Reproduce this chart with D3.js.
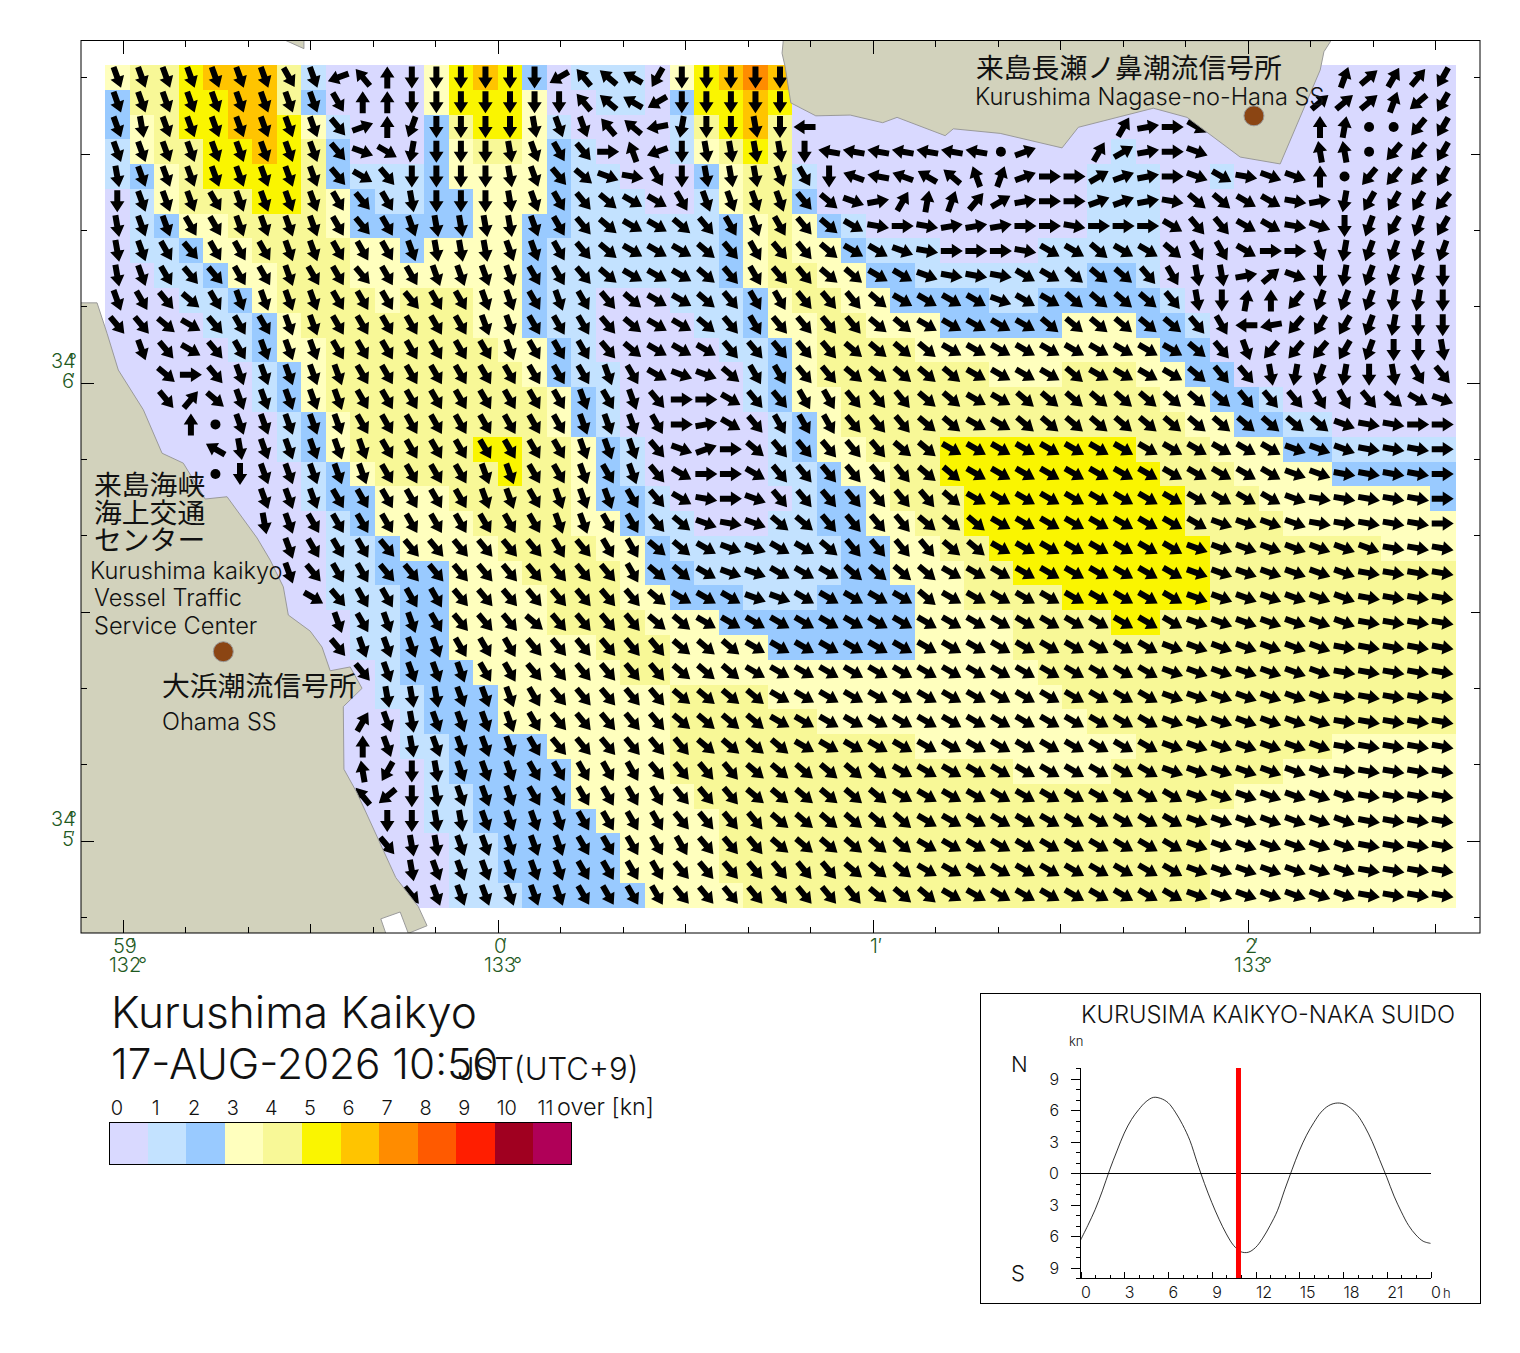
<!DOCTYPE html>
<html>
<head>
<meta charset="utf-8">
<title>Kurushima Kaikyo</title>
<script src="https://cdnjs.cloudflare.com/ajax/libs/d3/7.8.5/d3.min.js"></script>
<style>
	html, body { margin: 0; padding: 0; background: #fff; }
	text { font-family: Inter, "Noto Sans CJK JP", sans-serif; font-weight: 300; fill: #111; }
	text.ja { font-family: "Noto Sans CJK JP", sans-serif; font-weight: 400; }
</style>
</head>
<body>
<svg id="chart" width="1520" height="1353"></svg>
<script>
// speed class of every cell (0 = under 1 kn), one string per row
const speedRows = [
	"3445666410000356520 111035676000000000 000000000000000000",
	"2445566420000355530 011025565000000000 000000000000000000",
	"2345566531000245531 000014564000000000 000000000000000000",
	"1344556542000234432 100013454000000000 000010000000000000",
	"1234555542111233332 110002344100000000 000111001000000000",
	"0134445543211223332 111001344200000000 000111000000000000",
	"0123344443222223322 111111234321000000 000111000000000000",
	"0112334444332333321 111111234332111000 011111000000000000",
	"0011233444333333321 111111234433221111 111221000000000000",
	"0001123444434443321 100011123443322221 122222100000000000",
	"0000112344444443321 100001123344333222 223332210000000000",
	"0000012334444444332 100000112344443333 333333220000000000",
	"0000001234444444432 110000012344444443 334443322000000000",
	"0000001234444444443 210000012334444444 444444332210000000",
	"0000000123444444443 210000001234444444 444444433221100000",
	"0000000123444445544 321000001233444555 555554443332211111",
	"0000000012344444544 321000001123344555 555555444333322222",
	"0000000012233344444 322100000122344455 555555544433333332",
	"0000000001233334444 332110001122334455 555555544443333333",
	"0000000001123333444 433211111112233445 555555554444444333",
	"0000000001122233344 443221111112233344 555555554444444444",
	"0000000001112233334 443322211122223344 445555554444444444",
	"0000000000112233334 444333222222223333 444455444444444444",
	"0000000000112233333 344433332222223333 444444444444444444",
	"0000000000012223333 334433333333333333 344444444444444444",
	"0000000000011222333 333344443333333333 334444444444444444",
	"0000000000001222333 333344444433333333 333444444444444444",
	"0000000000001122223 333344444444443333 333334444444433333",
	"0000000000000122222 333344444444444444 333344444443333333",
	"0000000000000112222 333334444444444444 444444444333333333",
	"0000000000000112222 233333444444444444 444444443333333333",
	"0000000000000011222 223333444444444444 444444443333333333",
	"0000000000000011222 223333444444444444 444444443333333333",
	"0000000000000011122 222333344444444444 444444443333333333"
];

// flow heading of every cell in tens of degrees, base 36 (i = 180, 9 = 90)
// "." no arrow, "*" slack water
const headingRows = [
	"gggggggfgpw0iiiiiio wvuliiiii......... .............2534l",
	"gggggggggf00iiiiiii wvuoiiiii......... ............5552nl",
	"ghggggggge70kiiiihg gwvqjiihir........ ....389c....01**ml",
	"gggggggggebcjiiihgf e9ypihhhhisssssss* 7..3689b....zz*mml",
	"hggggggggeceiiiihge dbafihhhgfitstuvy2 7996789bcabb0*mmml",
	"igggfggggfefhiiihgf edccfggggedb831246 899778addcca8jlllm",
	"hggffggggfefghhhhgf edccdefgfedca9a888 99a999ceeccabiklkl",
	"hgfefffggfffghhhggf edcccdefeedccba999 accdccdffc99gjkkkk",
	"hgfeeffgffeffggggff edcccdefeeddccbaaa ccdddefhh85bijkkki",
	"gfedfggggfffeffggfg fedccdeffeeedccccb ccddddehi10mkkkjji",
	"eedceffggffffffggff fedccdefeeeeddcccc cddddddefrqmllkjii",
	".gecefgggfffffffgff fedccceeeeeddddccc cccccccdegmmmlkiih",
	"..d9egggggfffffffff fgfcbbdffeedddddcc ccdccccdeehjkjihfe",
	"..e4dgggggfffffffff gfge99ceeffeeeddcc dddddddddeeeffedcb",
	"...0*gggggfffffffff gggf98cefffeeeddcc dddddddddddddbaa99",
	"....uhgggggffffffff gggeb79deeeeeddccc cccccccccccbbbaaa9",
	"....*igggggffffggff gfgec99ceeeeeeddcc cccccccccccbbaaaa9",
	"......gggffffffggfg ggfeca9beeeeeeedcc cccccccccccbaaaaa9",
	"......hgffffffffffg gffedbabddeeeedddc ccccccccbbbbaaaaa9",
	".......gfffeeeeeeef effddcbbccdeeeeddc cccccccbbbbbbbbaaa",
	".......geffeeeeeeee eefddcbbcccddddccc cccccccbbbbbbbaaaa",
	"........ceffffeeeee eeedcccbbcccccdccc cccccccbbbbbbbaaaa",
	".........gfggfeeede eeeddccccccccccccc cccccccbbbbbbbaaaa",
	".........eggggfffee eeeedddccccccccccc ccccccbbbbbbbaaaaa",
	"..........eggggffee eeeedddccccccccccc ccccccbbbbbbbaaaaa",
	"...........hhhgggfe eeeeddddcccccccccc ccccccbbbbbbbaaaaa",
	"..........3ghggggfe eeeeddddcccccccccc ccccccbbbbbbbaaaaa",
	"..........0ghggggfe eeeeeddddccccccccc ccccccbbbbbbbaaaaa",
	"..........zlihgggff fffeeeeddddddccccc ccccccbbbbbbbaaaaa",
	"..........wnihgggff ffffeeeddddddccccc cccccccbbbbbbbaaaa",
	"...........iihhgggg ffffeeeeddddddcccc cccccccbbbbbbbaaaa",
	"...........ehhggggg fffffeeeddddddcccc cccccccbbbbbbbaaaa",
	"............hgggggg ffffeeeeeeedddcccc cccccccbbbbbbbaaaa",
	"............egggggg ffffeeeeeeeedddccc cccccccbbbbbbbaaaa"
];

const speedColors = ["#d9d9ff", "#c3e2ff", "#99caff", "#ffffbe", "#f8f897", "#faf500", "#ffc400", "#ff8c00", "#ff5a00", "#ff1e00", "#a00020", "#b00058"];
const speedLabels = ["0", "1", "2", "3", "4", "5", "6", "7", "8", "9", "10", "11"];

// coast outlines: arc seconds east of 133°00' and north of 34°05'
const coastNagase = [[45.6,104.9],[45.4,103.2],[45.9,101.4],[46.8,96.7],[50.8,95],[56.3,95.1],[61.5,94.1],[63.8,94.8],[71.5,92.4],[72.8,93.3],[80.3,92.7],[90.2,90.8],[92.8,93.5],[104.8,96],[110.2,94.8],[118.7,89.6],[125.1,88.7],[131.5,101],[132.1,103.4],[133.2,104.8]];
const coastIslet = [[-34.1,104.9],[-31.1,103.8],[-31.1,104.9]];
const coastWest = [[-67,70.5],[-64.2,70.5],[-62.6,66.5],[-60.8,61.7],[-56.8,56.5],[-53.8,50.8],[-50.4,49.5],[-46.9,44.8],[-43.4,45.1],[-38.6,39.7],[-36.5,36.8],[-34.4,33.3],[-33.6,29.6],[-30.1,27.5],[-28.2,25.4],[-26.9,22.3],[-23.7,22.8],[-21.8,20],[-24.8,17.6],[-24.7,9.4],[-22.6,6.3],[-16.4,-4.8],[-12.8,-8.6],[-11.4,-11.1],[-14.4,-12.1],[-15.7,-9.3],[-18.8,-10.2],[-18,-12.1],[-67,-12.1]];
const stations = [[120.9,95],[-44,24.8]];

// tide curve of the channel, hour and knots (north positive)
const tideHours = [0,0.5,1,1.5,2,2.5,3,3.5,4,4.5,5,5.5,6,6.5,7,7.5,8,8.5,9,9.5,10,10.5,11,11.5,12,12.5,13,13.5,14,14.5,15,15.5,16,16.5,17,17.5,18,18.5,19,19.5,20,20.5,21,21.5,22,22.5,23,23.5,24];
const tideKnots = [-6.4,-5,-3.5,-1.7,0.3,2.1,3.8,5.1,6.05,6.8,7.2,7.1,6.7,5.8,4.6,3.1,1,-1,-2.8,-4.4,-5.8,-6.9,-7.5,-7.55,-7.1,-6.2,-5,-3.6,-1.6,0.3,2.1,3.6,4.8,5.8,6.4,6.65,6.6,6.2,5.5,4.4,3,1.3,-0.4,-2.2,-3.7,-5,-5.9,-6.5,-6.7];
const tideNow = 10 + 50 / 60;
const tideHourTicks = [0, 3, 6, 9, 12, 15, 18, 21];
const tideKnotTicks = [-9, -6, -3, 0, 3, 6, 9];

const svg = d3.select('#chart');

const frame = {left: 81, right: 1480, top: 40.5, bottom: 933};

// map scales
const lon = d3.scaleLinear().domain([0, 60]).range([498.3, 873.3]);
const lat = d3.scaleLinear().domain([0, 60]).range([841, 383]);
const col = d3.scaleLinear().domain([0, 55]).range([105, 1455]);
const row = d3.scaleLinear().domain([0, 34]).range([65, 907.7]);

svg.append('clipPath').attr('id', 'frame').append('rect')
	.attr('x', frame.left).attr('y', frame.top)
	.attr('width', frame.right - frame.left).attr('height', frame.bottom - frame.top);

const speeds = speedRows.map(d => d.replace(/ /g, ''));
const headings = headingRows.map(d => d.replace(/ /g, ''));

const cells = [];
speeds.forEach((line, r) => {
	line.split('').forEach((s, c) => cells.push({r, c, speed: +s, heading: headings[r][c]}));
});

const map = svg.append('g').attr('clip-path', 'url(#frame)');

map.append('g').selectAll('rect')
	.data(cells)
	.join('rect')
	.attr('x', d => col(d.c))
	.attr('y', d => row(d.r))
	.attr('width', d => col(d.c + 1) - col(d.c) + 0.5)
	.attr('height', d => row(d.r + 1) - row(d.r) + 0.5)
	.attr('fill', d => speedColors[d.speed])
	.attr('shape-rendering', 'crispEdges');

// arrows
const arrow = 'M-3,-11L3,-11L3,0L7.2,0L0,11L-7.2,0L-3,0Z';

map.append('g').selectAll('path')
	.data(cells.filter(d => d.heading !== '.' && d.heading !== '*'))
	.join('path')
	.attr('d', arrow)
	.attr('fill', '#000')
	.attr('transform', d => {
		let deg = parseInt(d.heading, 36) * 10;
		// the shape points down, headings count clockwise from north
		return `translate(${col(d.c + 0.5)},${row(d.r + 0.5)}) rotate(${deg - 180})`;
	});

map.append('g').selectAll('circle')
	.data(cells.filter(d => d.heading === '*'))
	.join('circle')
	.attr('cx', d => col(d.c + 0.5))
	.attr('cy', d => row(d.r + 0.5))
	.attr('r', 5)
	.attr('fill', '#000');

// land
const coastLine = d3.line().x(d => lon(d[0])).y(d => lat(d[1]));

map.append('g').selectAll('path')
	.data([coastNagase, coastIslet, coastWest])
	.join('path')
	.attr('d', d => coastLine(d) + 'Z')
	.attr('fill', '#d2d2bc')
	.attr('stroke', '#9a9a9a')
	.attr('stroke-width', 1);

map.append('g').selectAll('circle')
	.data(stations)
	.join('circle')
	.attr('cx', d => lon(d[0]))
	.attr('cy', d => lat(d[1]))
	.attr('r', 10)
	.attr('fill', '#8b4513')
	.attr('stroke', '#9a9a9a');

// frame and ticks
svg.append('rect')
	.attr('x', frame.left).attr('y', frame.top)
	.attr('width', frame.right - frame.left).attr('height', frame.bottom - frame.top)
	.attr('fill', 'none')
	.attr('stroke', '#000');

let tickLength = s => s % 60 === 0 ? 13 : (Math.abs(s) % 30 === 0 ? 9 : 6);

const lonTicks = d3.range(-60, 160, 10);
const latTicks = d3.range(-10, 110, 10);

const ticks = svg.append('g').attr('stroke', '#000').attr('shape-rendering', 'crispEdges');

[frame.top, frame.bottom].forEach((edge, i) => {
	ticks.append('g').selectAll('line')
		.data(lonTicks)
		.join('line')
		.attr('x1', d => lon(d)).attr('x2', d => lon(d))
		.attr('y1', edge)
		.attr('y2', d => edge + (i ? -1 : 1) * tickLength(d));
});

[frame.left, frame.right].forEach((edge, i) => {
	ticks.append('g').selectAll('line')
		.data(latTicks)
		.join('line')
		.attr('y1', d => lat(d)).attr('y2', d => lat(d))
		.attr('x1', edge)
		.attr('x2', d => edge + (i ? -1 : 1) * tickLength(d));
});

// place names
const namesJa = [
	['来島長瀬ノ鼻潮流信号所', 976, 78],
	['来島海峡', 94, 495],
	['海上交通', 94, 523],
	['センター', 94, 550],
	['大浜潮流信号所', 162, 696]
];
const namesEn = [
	['Kurushima Nagase-no-Hana SS', 975, 105],
	['Kurushima kaikyo', 90, 579],
	['Vessel Traffic', 94, 606],
	['Service Center', 94, 634],
	['Ohama SS', 162, 730]
];

svg.append('g').selectAll('text')
	.data(namesJa)
	.join('text')
	.attr('class', 'ja')
	.text(d => d[0])
	.attr('x', d => d[1])
	.attr('y', d => d[2])
	.attr('font-size', 27.8);

svg.append('g').selectAll('text')
	.data(namesEn)
	.join('text')
	.text(d => d[0])
	.attr('x', d => d[1])
	.attr('y', d => d[2])
	.attr('font-size', 23.6);

// graticule labels
const graticule = [
	['59', 113, 953], ['′', 131, 953], ['132', 109, 972], ['°', 138, 972],
	['0', 494, 953], ['′', 503, 953], ['133', 484, 972], ['°', 513, 972],
	['1', 870, 953], ['′', 878, 953],
	['2', 1245, 953], ['′', 1254, 953], ['133', 1234, 972], ['°', 1263, 972],
	['34', 51, 368], ['°', 68, 368], ['6', 62, 388], ['′', 71, 388],
	['34', 51, 826], ['°', 68, 826], ['5', 62, 846], ['′', 71, 846]
];

svg.append('g').selectAll('text')
	.data(graticule)
	.join('text')
	.text(d => d[0])
	.attr('x', d => d[1])
	.attr('y', d => d[2])
	.attr('font-size', 20)
	.style('fill', '#1f5a1f');

// title block
const titles = [
	['Kurushima Kaikyo', 111, 1028, 44.2],
	['17-AUG-2026 10:50', 111, 1079, 42.3],
	['JST(UTC+9)', 457, 1080, 31],
	['over [kn]', 557, 1115, 23.4]
];

svg.append('g').selectAll('text')
	.data(titles)
	.join('text')
	.text(d => d[0])
	.attr('x', d => d[1])
	.attr('y', d => d[2])
	.attr('font-size', d => d[3]);

// colour legend
const legend = d3.scaleBand().domain(speedColors).range([109, 572]);

svg.append('g').selectAll('rect')
	.data(speedColors)
	.join('rect')
	.attr('x', d => legend(d))
	.attr('y', 1122)
	.attr('width', legend.bandwidth())
	.attr('height', 43)
	.attr('fill', d => d)
	.attr('shape-rendering', 'crispEdges');

svg.append('rect')
	.attr('x', 109.5).attr('y', 1122.5)
	.attr('width', 462).attr('height', 42)
	.attr('fill', 'none')
	.attr('stroke', '#000');

svg.append('g').selectAll('text')
	.data(speedLabels)
	.join('text')
	.text(d => d)
	.attr('x', (d, i) => legend(speedColors[i]) + (i < 10 ? 8 : 12))
	.attr('y', 1115)
	.attr('text-anchor', 'middle')
	.attr('font-size', 20);

// tide panel
svg.append('rect')
	.attr('x', 980.5).attr('y', 993.5)
	.attr('width', 500).attr('height', 310)
	.attr('fill', 'none')
	.attr('stroke', '#000');

const hour = d3.scaleLinear().domain([0, 24]).range([1080.5, 1430.5]);
const knot = d3.scaleLinear().domain([-10, 10]).range([1278, 1068]);

let tide = svg.append('g');

tide.append('g')
	.attr('transform', `translate(${hour(0)},0)`)
	.call(d3.axisLeft(knot).tickValues(d3.range(-10, 11)).tickSize(5).tickFormat(''))
	.call(g => g.select('.domain').attr('d', `M0,${knot(10)}V${knot(-10)}`))
	.call(g => g.selectAll('.tick line')
		.filter(d => tideKnotTicks.includes(d))
		.attr('x2', -10));

tide.append('g')
	.attr('transform', `translate(0,${knot(-10)})`)
	.call(d3.axisTop(hour).tickValues(d3.range(0, 25)).tickSize(3).tickFormat(''))
	.call(g => g.select('.domain').attr('d', `M${hour(0)},0H${hour(24)}`))
	.call(g => g.selectAll('.tick line')
		.filter(d => d % 3 === 0)
		.attr('y2', -6));

tide.selectAll('.tick line, .domain').attr('shape-rendering', 'crispEdges');

tide.append('line')
	.attr('x1', hour(0) - 10).attr('x2', hour(24))
	.attr('y1', knot(0)).attr('y2', knot(0))
	.attr('stroke', '#000')
	.attr('shape-rendering', 'crispEdges');

tide.append('g').selectAll('text')
	.data(tideKnotTicks)
	.join('text')
	.text(d => Math.abs(d))
	.attr('x', 1059)
	.attr('y', d => knot(d) + 6)
	.attr('text-anchor', 'end')
	.attr('font-size', 16);

tide.append('g').selectAll('text')
	.data(tideHourTicks)
	.join('text')
	.text(d => d)
	.attr('x', d => hour(d) + 0.5)
	.attr('y', 1298)
	.attr('font-size', 16);

tide.append('path')
	.datum(tideHours.map((h, i) => [h, tideKnots[i]]))
	.attr('d', d3.line().x(d => hour(d[0])).y(d => knot(d[1])).curve(d3.curveCatmullRom))
	.attr('fill', 'none')
	.attr('stroke', '#000')
	.attr('stroke-width', 0.8);

tide.append('line')
	.attr('x1', hour(tideNow)).attr('x2', hour(tideNow))
	.attr('y1', knot(10)).attr('y2', knot(-10))
	.attr('stroke', '#ff0000')
	.attr('stroke-width', 5);

const panelTexts = [
	['KURUSIMA KAIKYO-NAKA SUIDO', 1081, 1023, 23.8],
	['kn', 1069, 1046, 13],
	['N', 1011, 1072, 22],
	['S', 1011, 1281, 22],
	['0', 1431, 1298, 16],
	['h', 1443, 1298, 13]
];

tide.append('g').selectAll('text')
	.data(panelTexts)
	.join('text')
	.text(d => d[0])
	.attr('x', d => d[1])
	.attr('y', d => d[2])
	.attr('font-size', d => d[3]);
</script>
</body>
</html>
